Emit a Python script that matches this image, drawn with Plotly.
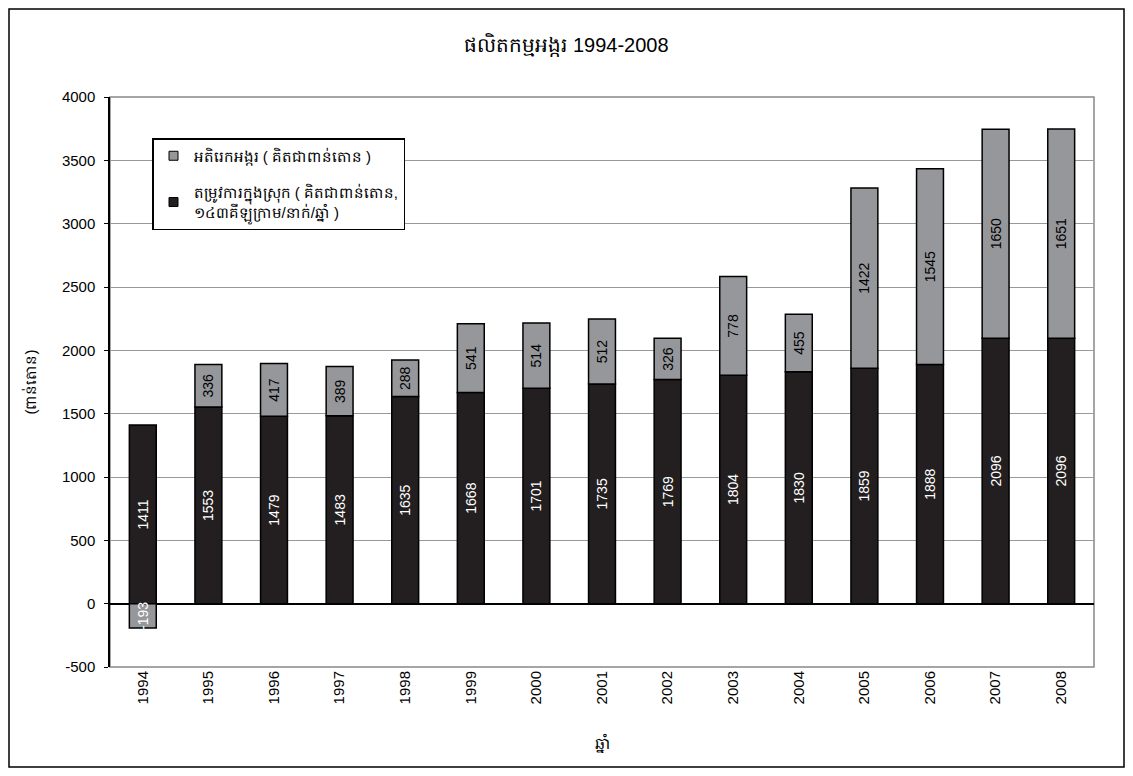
import plotly.graph_objects as go

years = ["1994", "1995", "1996", "1997", "1998", "1999", "2000", "2001",
         "2002", "2003", "2004", "2005", "2006", "2007", "2008"]
domestic = [1411, 1553, 1479, 1483, 1635, 1668, 1701, 1735, 1769, 1804,
            1830, 1859, 1888, 2096, 2096]
surplus = [-193, 336, 417, 389, 288, 541, 514, 512, 326, 778, 455, 1422,
           1545, 1650, 1651]
y_ticks = [-500, 0, 500, 1000, 1500, 2000, 2500, 3000, 3500, 4000]
y_tick_labels = ["-500", "0", "500", "1000", "1500", "2000", "2500", "3000", "3500", "4000"]

title_text = "ផលិតកម្មអង្ករ 1994-2008"
name_surplus = "អតិរេកអង្ករ ( គិតជាពាន់តោន )"
name_domestic = "តម្រូវការក្នុងស្រុក ( គិតជាពាន់តោន,<br>១៤៣គីឡូក្រាម/នាក់/ឆ្នាំ )"
y_title = "(ពាន់តោន)"
x_title = "ឆ្នាំ"

FONT = "Liberation Sans, Arial, Noto Sans, sans-serif"
DARK = "#231f20"
GRAY = "#96979b"

fig = go.Figure()
fig.add_trace(go.Bar(
    x=years, y=domestic, name=name_domestic, showlegend=False,
    marker=dict(color=DARK, line=dict(color="#000000", width=1.5)),
    text=[str(v) for v in domestic], textposition="inside",
    textangle=-90, insidetextanchor="middle", constraintext="none",
    insidetextfont=dict(color="white", size=14, family=FONT),
))
fig.add_trace(go.Bar(
    x=years, y=surplus, name=name_surplus, showlegend=False,
    marker=dict(color=GRAY, line=dict(color="#000000", width=1.5)),
    text=[str(v) for v in surplus], textposition="inside",
    textangle=-90, insidetextanchor="middle", constraintext="none",
    insidetextfont=dict(color=["white" if v < 0 else "black" for v in surplus],
                        size=14, family=FONT),
))
# legend entries with small square swatches
fig.add_trace(go.Scatter(
    x=[None], y=[None], mode="markers", name=name_surplus, legendgroup="a",
    marker=dict(symbol="square", size=9, color=GRAY, line=dict(color="black", width=1)),
))
fig.add_trace(go.Scatter(
    x=[None], y=[None], mode="markers", name=name_domestic, legendgroup="b",
    marker=dict(symbol="square", size=9, color=DARK, line=dict(color="black", width=1)),
))

# the page body has an 8px margin: figure occupies ref pixels 8..1125 x 8..768
OFF = 8
W, H = 1117, 760
L, T = 110 - OFF, 97 - OFF
R = W - (1094 - OFF)
B = H - (667 - OFF)
pw, ph = W - L - R, H - T - B

def px_x(p):
    return (p - OFF - L) / pw

def px_y(p):
    return (H - B - (p - OFF)) / ph

fig.update_layout(
    width=W, height=H,
    margin=dict(l=L, r=R, t=T, b=B),
    paper_bgcolor="white", plot_bgcolor="white",
    barmode="relative", bargap=0.59,
    font=dict(family=FONT, size=14, color="black"),
    title=dict(text=title_text, x=0.5, xanchor="center",
               y=1 - (45 - OFF) / H, yref="container", yanchor="middle",
               font=dict(size=20, family=FONT, color="black")),
    showlegend=True,
    legend=dict(
        x=px_x(152), y=px_y(138), xanchor="left", yanchor="top",
        bgcolor="white", bordercolor="black", borderwidth=1.5,
        traceorder="grouped", font=dict(size=15, family=FONT),
        itemwidth=30, tracegroupgap=14,
    ),
    shapes=[
        dict(type="rect", xref="paper", yref="paper", x0=0, x1=1, y0=0, y1=1,
             line=dict(color="#888888", width=1.5), layer="below"),
        dict(type="rect", xref="paper", yref="paper",
             x0=px_x(9), x1=px_x(1124), y0=px_y(767), y1=px_y(9),
             line=dict(color="black", width=1.5)),
    ],
)

fig.update_yaxes(
    range=[-500, 4000], tickvals=y_ticks, ticktext=y_tick_labels,
    showgrid=True, gridcolor="#999999", gridwidth=1,
    zeroline=True, zerolinecolor="black", zerolinewidth=1.5,
    showline=True, linecolor="black", linewidth=1.5,
    ticks="outside", ticklen=4, tickcolor="black", ticklabelstandoff=6,
    tickfont=dict(size=15, family=FONT),
    title=dict(text=y_title, font=dict(size=15, family=FONT), standoff=22),
)
fig.update_xaxes(
    type="category", tickangle=-90, showgrid=False, showline=False,
    tickfont=dict(size=15, family=FONT), ticks="",
    title=dict(text=x_title, font=dict(size=16, family=FONT), standoff=34),
)

fig.write_html("out.html")
